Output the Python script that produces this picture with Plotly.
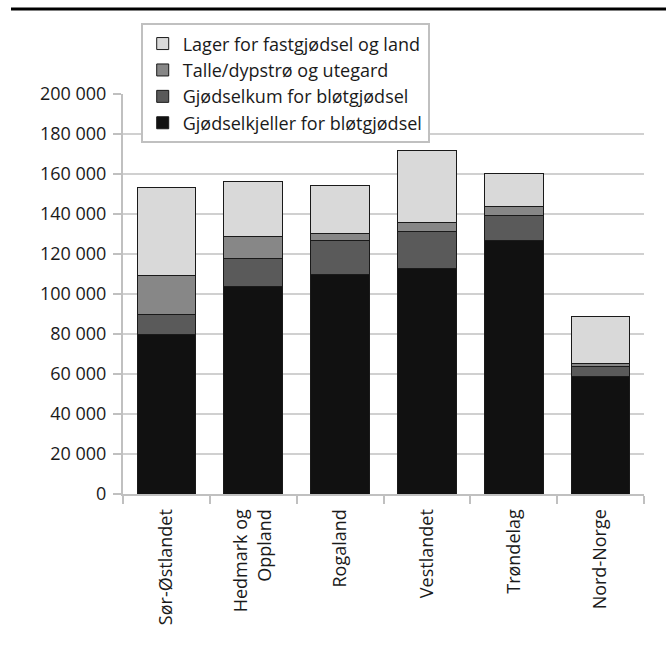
import plotly.graph_objects as go

regions = ["Sør-Østlandet", "Hedmark og<br>Oppland", "Rogaland", "Vestlandet", "Trøndelag", "Nord-Norge"]
kjeller = [80000, 103800, 110000, 112600, 127000, 58900]
kum = [9800, 14100, 16700, 18600, 12200, 4700]
talle = [19600, 11100, 3500, 4700, 4500, 1800]
lager = [43800, 27400, 24000, 35800, 16800, 23200]

series = [
    ("Gjødselkjeller for bløtgjødsel", kjeller, "#111111"),
    ("Gjødselkum for bløtgjødsel", kum, "#5a5a5a"),
    ("Talle/dypstrø og utegard", talle, "#878787"),
    ("Lager for fastgjødsel og land", lager, "#d9d9d9"),
]

FONT = "Open Sans"
FS = 18
fig = go.Figure()
for name, vals, col in series:
    fig.add_trace(go.Bar(
        x=regions, y=vals, name=name,
        marker=dict(color=col, line=dict(color="#1a1a1a", width=1)),
    ))

fig.update_layout(
    width=667, height=650,
    barmode="stack", bargap=0.323,
    separators=", ",
    paper_bgcolor="white", plot_bgcolor="white",
    margin=dict(l=123, r=23, t=94, b=156),
    font=dict(family=FONT, size=FS, color="#1a1a1a"),
    showlegend=True,
    legend=dict(
        x=0.034, y=1.1766, xanchor="left", yanchor="top",
        traceorder="reversed",
        bgcolor="white", bordercolor="#c0c0c0", borderwidth=2,
        font=dict(family=FONT, size=FS, color="#1a1a1a"),
        itemwidth=30, tracegroupgap=0,
        entrywidth=265, entrywidthmode="pixels",
    ),
    xaxis=dict(
        type="category", tickangle=-90,
        showline=True, linecolor="#c0c0c0", linewidth=2,
        ticks="outside", ticklen=8, tickwidth=2, tickcolor="#c0c0c0",
        tickson="boundaries", showgrid=False,
        ticklabelstandoff=6,
        tickfont=dict(family=FONT, size=FS, color="#1a1a1a"),
    ),
    yaxis=dict(
        range=[0, 200000], dtick=20000, tickformat=",d",
        showline=True, linecolor="#c0c0c0", linewidth=2,
        ticks="outside", ticklen=8, tickwidth=2, tickcolor="#c0c0c0",
        showgrid=True, gridcolor="#d0d0d0", gridwidth=1.5,
        zeroline=False, ticklabelstandoff=3,
        tickfont=dict(family=FONT, size=FS, color="#1a1a1a"),
    ),
    shapes=[dict(type="line", xref="paper", yref="paper",
                 x0=(11 - 123) / 521, x1=(666 - 123) / 521,
                 y0=(494 - 9) / 400, y1=(494 - 9) / 400,
                 line=dict(color="black", width=3))],
)

fig.write_html("out.html")
